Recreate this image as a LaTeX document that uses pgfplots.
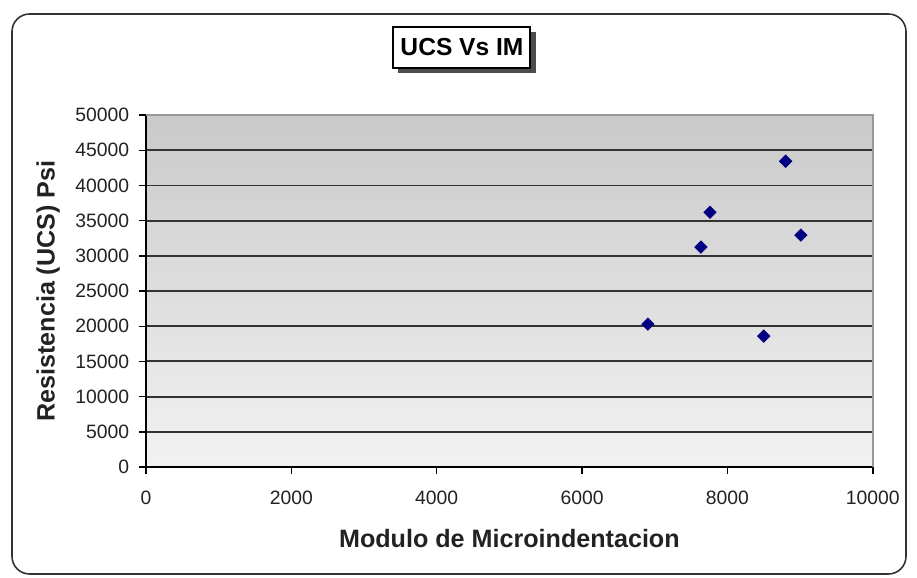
\documentclass[border=0pt]{standalone}
\usepackage{fontspec}
\setmainfont{Liberation Sans}
\usepackage{pgfplots}
\pgfplotsset{compat=1.18}
\definecolor{navypt}{HTML}{000080}
\definecolor{txt}{HTML}{222222}

\begin{document}
\begin{tikzpicture}[x=0.02cm,y=0.02cm]
% page size (917 x 578 px), y measured from the bottom
\fill[white] (0,0) rectangle (917,578);
\draw[black!80, line width=0.9pt, rounded corners=10pt] (12,4) rectangle (906,564);

\begin{axis}[
    at={(2.92cm,2.22cm)}, anchor=origin,
    scale only axis,
    width=14.54cm, height=7.04cm,
    xmin=0, xmax=10000, ymin=0, ymax=50000,
    xtick={0,2000,...,10000}, ytick={0,5000,...,50000},
    scaled ticks=false,
    /pgf/number format/assume math mode=true,
    /pgf/number format/set thousands separator={},
    tick label style={font=\fontsize{11}{13}\selectfont, text=txt},
    xticklabel style={yshift=-6pt},
    yticklabel style={xshift=-2pt},
    tick align=outside, major tick length=4pt,
    tick style={black, line width=0.8pt},
    axis x line*=bottom, axis y line*=left,
    axis line style={black, line width=0.9pt},
    ymajorgrids, grid style={black!80, line width=1.1pt},
    axis background/.style={top color=black!21, bottom color=black!5},
    xlabel={\textbf{Modulo de Microindentacion}},
    ylabel={\textbf{Resistencia (UCS) Psi}},
    label style={font=\fontsize{14.3}{16}\selectfont, text=txt},
    xlabel style={yshift=-7pt},
    ylabel style={yshift=2pt},
    clip=false,
]
\draw[black!40, line width=0.9pt] (axis cs:0,50000) -- (axis cs:10000,50000) -- (axis cs:10000,0);
\addplot[only marks, mark=square*, mark size=2.5pt, mark options={rotate=45}, color=navypt, fill=navypt]
  coordinates {
    (6905,20300)
    (7635,31250)
    (7760,36200)
    (8800,43450)
    (9010,32950)
    (8500,18600)
  };
\end{axis}

% title box with shadow
\fill[black!70] (398,505) rectangle (536,546);
\draw[black, line width=0.8pt, fill=white] (393,551) rectangle (530,510);
\node[font=\fontsize{14}{16}\selectfont\bfseries] at (462,531) {UCS Vs IM};
\end{tikzpicture}
\end{document}
